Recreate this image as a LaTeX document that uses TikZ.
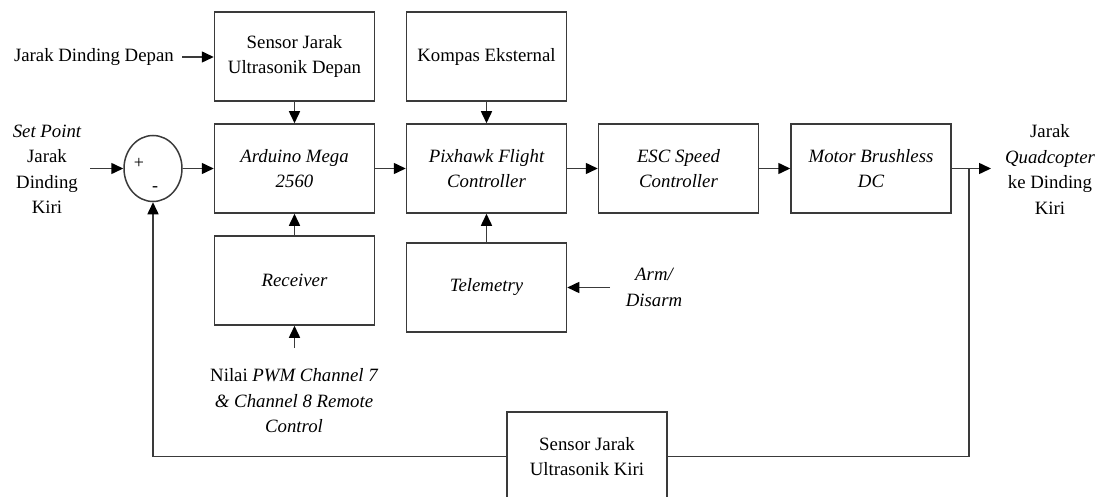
\documentclass[tikz,border=0pt]{standalone}
\usepackage{fontspec}
\setmainfont{Liberation Serif}
\usetikzlibrary{arrows.meta,shapes.geometric}
\definecolor{ln}{HTML}{3A3A3A}
\tikzset{
  blk/.style={draw=ln, line width=1.5pt, minimum width=160pt, minimum height=89pt, inner sep=0pt, align=center, fill=white},
  txt/.style={inner sep=0pt, align=center},
  arr/.style={draw=ln, line width=1.5pt, -{Triangle[length=12pt,width=11pt,color=black]}},
  ln/.style={draw=ln, line width=1.5pt},
}
\begin{document}
\begin{tikzpicture}[x=1pt,y=-1pt,font=\fontsize{18.8}{25.5}\selectfont]
\useasboundingbox (0,0) rectangle (1099,497);
\clip (0,0) rectangle (1099,497);
% boxes
\node[blk] (sd) at (294.5,56.5) {Sensor Jarak\\Ultrasonik Depan};
\node[blk] (ar) at (294.5,168.5) {\itshape Arduino Mega\\\itshape 2560};
\node[blk] (rc) at (294.5,280.5) {\itshape Receiver};
\node[blk] (kp) at (486.5,56.5) {Kompas Eksternal};
\node[blk] (px) at (486.5,168.5) {\itshape Pixhawk Flight\\\itshape Controller};
\node[blk] (tl) at (486.5,287.5) {\itshape Telemetry};
\node[blk] (es) at (678.5,168.5) {\itshape ESC Speed\\\itshape Controller};
\node[blk] (md) at (871,168.5) {\itshape Motor Brushless\\\itshape DC};
\node[blk] (sk) at (587,456.5) {Sensor Jarak\\Ultrasonik Kiri};
\node[draw=ln, line width=1.5pt, ellipse, minimum width=58pt, minimum height=66pt, inner sep=0pt] (sum) at (153,168.5) {};
\node[txt] (plus) at (139,163) {\fontsize{18}{18}\selectfont +};
\node[txt] (minus) at (155,189) {\fontsize{18}{18}\selectfont -};
% labels
\node[txt, anchor=east] (jdd) at (174,57) {Jarak Dinding Depan};
\node[txt] (sp) at (47,169.5) {\itshape Set Point\\Jarak\\Dinding\\Kiri};
\node[txt] (out) at (1050,169.5) {Jarak\\\itshape Quadcopter\\ke Dinding\\Kiri};
\node[txt] (arm) at (654,287.5) {\itshape Arm/\\\itshape Disarm};
\node[txt] (pwm) at (294,401) {Nilai \itshape PWM Channel 7\\\itshape \& Channel 8 Remote\\\itshape Control};
% coordinates
\coordinate (spin) at (90,168.5);
\coordinate (jddend) at (182,57);
\coordinate (pwmend) at (294.5,348);
\coordinate (armend) at (610,287.5);
\coordinate (br) at (969,168.5);
\coordinate (outend) at (991,168.5);
% connectors
\draw[arr] (jddend) -- (sd.west |- jddend);
\draw[arr] (sd) -- (ar);
\draw[arr] (spin) -- (sum.west);
\draw[arr] (sum.east) -- (ar.west);
\draw[arr] (rc) -- (ar);
\draw[arr] (pwmend) -- (rc.south);
\draw[arr] (ar) -- (px);
\draw[arr] (kp) -- (px);
\draw[arr] (tl) -- (px);
\draw[arr] (armend) -- (tl.east);
\draw[arr] (px) -- (es);
\draw[arr] (es) -- (md);
\draw[arr] (md.east) -- (outend);
\draw[ln] (br) |- (sk.east);
\draw[arr] (sk.west) -| (sum.south);
\end{tikzpicture}
\end{document}
